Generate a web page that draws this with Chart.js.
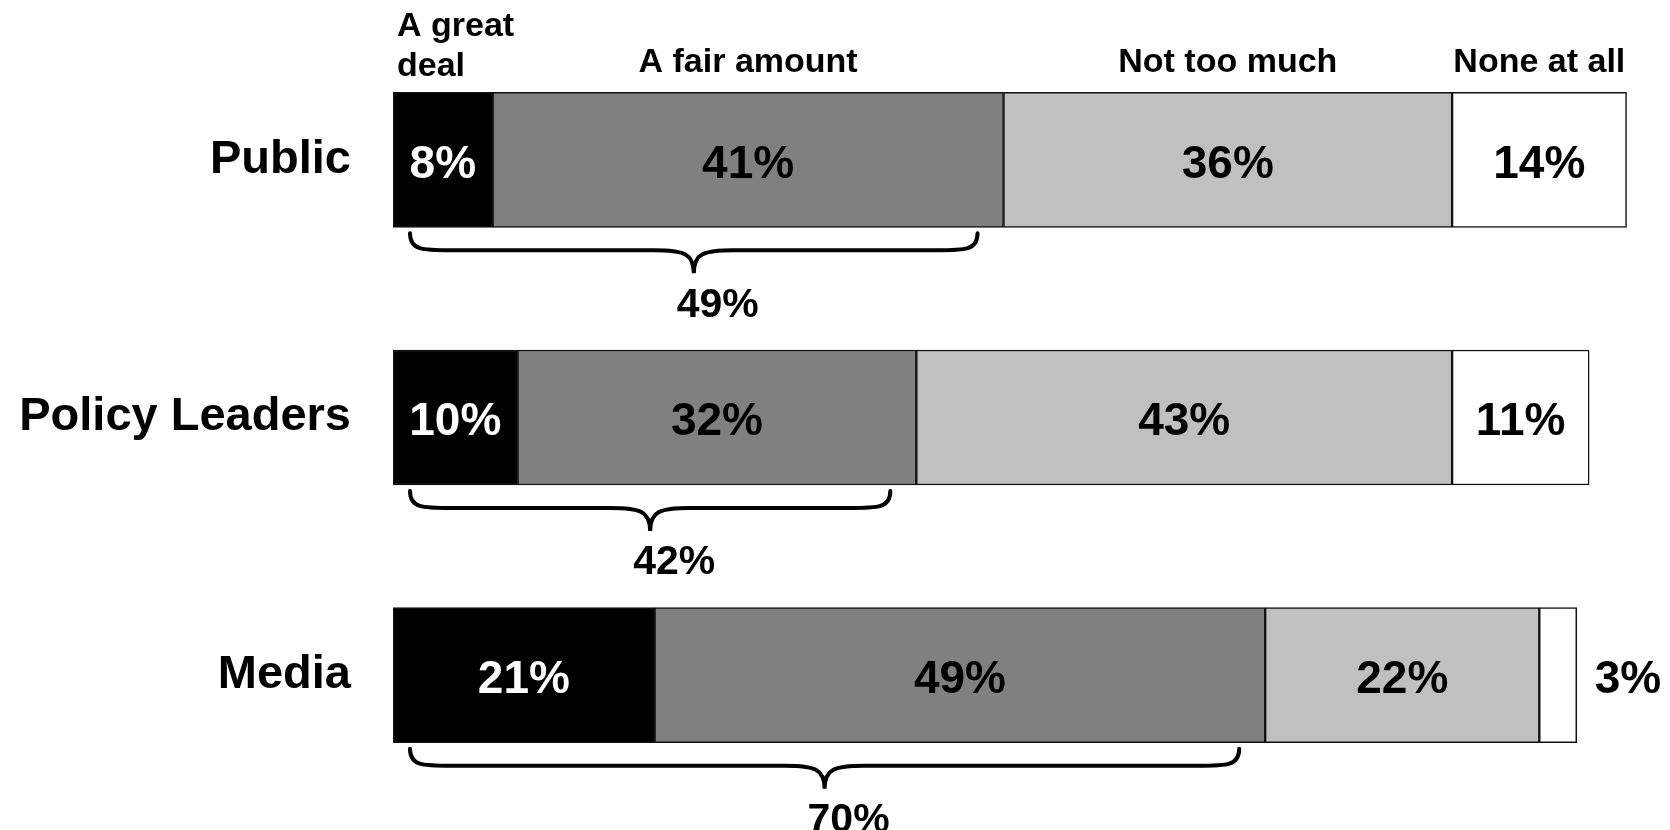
<!DOCTYPE html>
<html>
<head>
<meta charset="utf-8">
<script src="https://cdn.jsdelivr.net/npm/chart.js@4.4.1/dist/chart.umd.min.js"></script>
<style>
  html, body { margin: 0; padding: 0; background: #fff; }
  #wrap { width: 1670px; height: 830px; position: relative; }
</style>
</head>
<body>
<div id="wrap"><canvas id="trustChart"></canvas></div>
<script>
'use strict';

// rows and answer categories
const groups = ['Public', 'Policy Leaders', 'Media'];
const seriesNames = ['A great deal', 'A fair amount', 'Not too much', 'None at all'];

// percent per answer, one entry per row
const greatDeal = [8, 10, 21];
const fairAmount = [41, 32, 49];
const notTooMuch = [36, 43, 22];
const noneAtAll = [14, 11, 3];

const seriesValues = [greatDeal, fairAmount, notTooMuch, noneAtAll];
const fills = ['#000000', '#808080', '#c0c0c0', '#ffffff'];
const FONT = '"Liberation Sans", Arial, Helvetica, sans-serif';

// curly brace lying on its side, tip pointing down
function drawBrace(ctx, x0, x1, yTop) {
    const yLine = yTop + 17;
    const yTip = yTop + 40;
    const xm = (x0 + x1) / 2;
    ctx.beginPath();
    ctx.moveTo(x0, yTop);
    ctx.bezierCurveTo(x0, yLine, x0 + 12, yLine, x0 + 42, yLine);
    ctx.lineTo(xm - 40, yLine);
    ctx.bezierCurveTo(xm - 10, yLine, xm, yLine + 3, xm, yTip);
    ctx.bezierCurveTo(xm, yLine + 3, xm + 10, yLine, xm + 40, yLine);
    ctx.lineTo(x1 - 42, yLine);
    ctx.bezierCurveTo(x1 - 12, yLine, x1, yLine, x1, yTop);
    ctx.stroke();
    return { xm: xm, yTip: yTip };
}

const segmentLabels = {
    id: 'segmentLabels',
    afterDatasetsDraw(chart) {
        const ctx = chart.ctx;
        const xScale = chart.scales.x;
        ctx.save();
        ctx.textBaseline = 'middle';

        // percentages inside each segment (or just past the bar end if too narrow)
        ctx.font = 'bold 46px ' + FONT;
        chart.data.datasets.forEach((ds, di) => {
            const meta = chart.getDatasetMeta(di);
            meta.data.forEach((bar, i) => {
                const text = ds.data[i] + '%';
                const left = bar.base, right = bar.x;
                const w = ctx.measureText(text).width;
                if (right - left > w + 8) {
                    ctx.textAlign = 'center';
                    ctx.fillStyle = di === 0 ? '#fff' : '#000';
                    ctx.fillText(text, (left + right) / 2, bar.y + 5);
                } else {
                    ctx.textAlign = 'left';
                    ctx.fillStyle = '#000';
                    ctx.fillText(text, right + 18, bar.y + 5);
                }
            });
        });

        // answer names above the first row
        ctx.font = 'bold 34px ' + FONT;
        ctx.fillStyle = '#000';
        seriesNames.forEach((name, di) => {
            const bar = chart.getDatasetMeta(di).data[0];
            const top = bar.y - bar.height / 2;
            const segW = bar.x - bar.base;
            if (ctx.measureText(name).width > segW) {
                const cut = name.lastIndexOf(' ');
                ctx.textAlign = 'left';
                ctx.fillText(name.slice(0, cut), bar.base + 4, top - 66);
                ctx.fillText(name.slice(cut + 1), bar.base + 4, top - 26);
            } else {
                ctx.textAlign = 'center';
                ctx.fillText(name, (bar.base + bar.x) / 2, top - 30);
            }
        });

        // braces summing the two positive answers
        ctx.strokeStyle = '#000';
        ctx.lineWidth = 4;
        ctx.lineCap = 'round';
        ctx.font = 'bold 41px ' + FONT;
        ctx.textAlign = 'center';
        groups.forEach((g, i) => {
            const bar = chart.getDatasetMeta(0).data[i];
            const bottom = bar.y + bar.height / 2;
            const total = greatDeal[i] + fairAmount[i];
            const x0 = xScale.getPixelForValue(0) + 17;
            const x1 = xScale.getPixelForValue(total) - 26;
            const b = drawBrace(ctx, x0, x1, bottom + 6);
            ctx.fillText(total + '%', b.xm + 24, b.yTip + 32);
        });

        ctx.restore();
    }
};

new Chart(document.getElementById('trustChart'), {
    type: 'bar',
    data: {
        labels: groups,
        datasets: seriesValues.map((vals, k) => ({
            label: seriesNames[k],
            data: vals,
            backgroundColor: fills[k],
            borderColor: '#111',
            borderWidth: 1.5,
            borderSkipped: false,
            barThickness: 135
        }))
    },
    options: {
        indexAxis: 'y',
        responsive: true,
        maintainAspectRatio: false,
        animation: false,
        layout: { padding: { top: 31, bottom: 26, left: 0, right: 31 } },
        plugins: {
            legend: { display: false },
            tooltip: { enabled: false }
        },
        scales: {
            x: { stacked: true, min: 0, max: 100, display: false },
            y: {
                stacked: true,
                grid: { display: false, drawTicks: false },
                border: { display: false },
                ticks: {
                    color: '#000',
                    padding: 42,
                    font: { family: FONT, size: 47, weight: 'bold' }
                },
                afterFit(scale) {
                    // fixed label column; drop the extra label padding top/bottom
                    scale.width = 393;
                    scale.paddingTop = 0;
                    scale.paddingBottom = 0;
                }
            }
        }
    },
    plugins: [segmentLabels]
});
</script>
</body>
</html>
